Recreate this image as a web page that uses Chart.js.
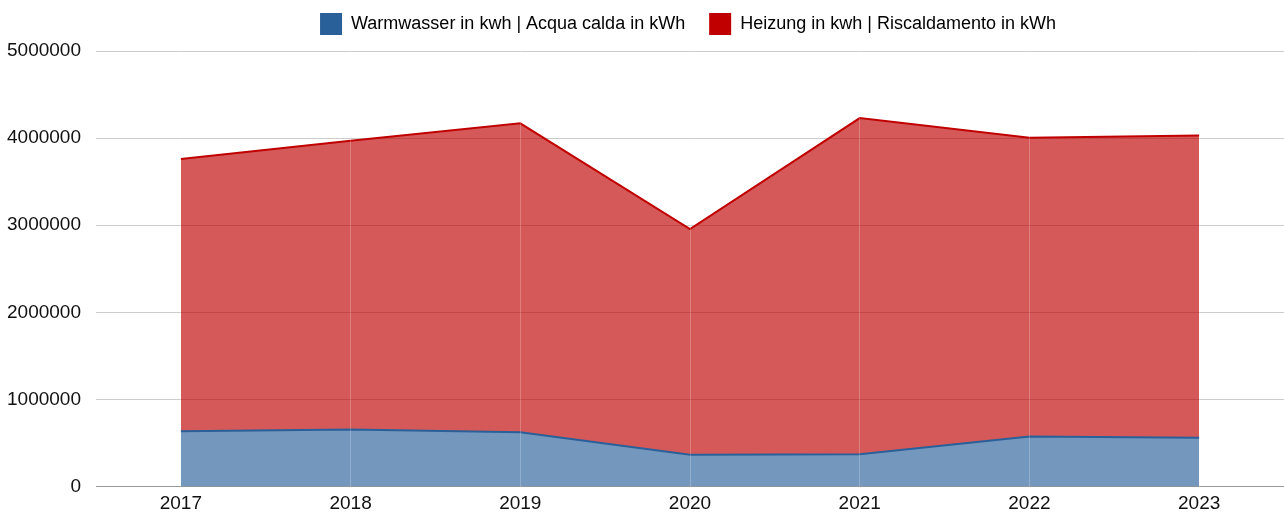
<!DOCTYPE html>
<html>
<head>
<meta charset="utf-8">
<script src="https://cdn.jsdelivr.net/npm/chart.js@4.4.0/dist/chart.umd.min.js"></script>
<style>
  html, body { margin: 0; padding: 0; background: #fff; }
  #wrap { width: 1284px; height: 513px; }
</style>
</head>
<body>
<div id="wrap"><canvas id="myChart"></canvas></div>
<script>
  // data
  var years = ['2017', '2018', '2019', '2020', '2021', '2022', '2023']
  var warmwasser = [635000, 655000, 625000, 365000, 370000, 575000, 560000]
  var heizung = [3125000, 3315000, 3545000, 2590000, 3860000, 3430000, 3470000]
  var yTicks = [0, 1000000, 2000000, 3000000, 4000000, 5000000]

  Chart.defaults.font.family = '"Liberation Sans", Arial, Helvetica, sans-serif'
  Chart.defaults.font.size = 19
  Chart.defaults.color = '#111'

  // legend: extra space below it, wider gap between items,
  // centred over the plot area instead of the canvas
  var legendTweak = {
    id: 'legendTweak',
    beforeInit: function (chart) {
      var fit = chart.legend.fit
      chart.legend.fit = function () {
        fit.call(this)
        this.height += 6
      }
    },
    beforeDraw: function (chart) {
      var lg = chart.legend
      var ca = chart.chartArea
      lg.options.labels.padding = 24
      lg.top = -11
      lg.left = ca.left - 13
      lg.right = ca.right - 13
    },
    afterDraw: function (chart) {
      chart.legend.options.labels.padding = 13
    }
  }

  var ctx = document.getElementById('myChart')
  // eslint-disable-next-line no-unused-vars
  var myChart = new Chart(ctx, {
    type: 'line',
    data: {
      labels: years,
      datasets: [{
        label: 'Warmwasser in kwh | Acqua calda in kWh',
        data: warmwasser,
        borderColor: '#2a6099',
        backgroundColor: 'rgba(42, 96, 153, 0.65)',
        fill: 'origin',
        borderWidth: 2,
        pointRadius: 0,
        tension: 0
      }, {
        label: 'Heizung in kwh | Riscaldamento in kWh',
        data: heizung,
        borderColor: '#c00000',
        backgroundColor: 'rgba(192, 0, 0, 0.65)',
        fill: '-1',
        borderWidth: 2,
        pointRadius: 0,
        tension: 0
      }]
    },
    plugins: [legendTweak],
    options: {
      responsive: true,
      maintainAspectRatio: false,
      animation: false,
      layout: { padding: { top: 0, right: 0, left: 7, bottom: 0 } },
      plugins: {
        legend: {
          position: 'top',
          labels: {
            boxWidth: 22,
            boxHeight: 22,
            padding: 13,
            color: '#111',
            font: { size: 18 },
            generateLabels: function (chart) {
              return chart.data.datasets.map(function (ds, i) {
                return {
                  text: ds.label,
                  fillStyle: ds.borderColor,
                  strokeStyle: ds.borderColor,
                  lineWidth: 0,
                  datasetIndex: i
                }
              })
            }
          }
        },
        tooltip: { enabled: false }
      },
      scales: {
        x: {
          offset: true,
          afterFit: function (axis) { axis.height = 26 },
          grid: {
            offset: false,
            color: 'rgba(255, 255, 255, 0.22)',
            drawTicks: false,
            z: 1
          },
          border: { display: false },
          ticks: { padding: 6, color: '#111' }
        },
        y: {
          stacked: true,
          min: 0,
          max: 5000000,
          afterFit: function (axis) { axis.width = 89 },
          afterBuildTicks: function (axis) {
            axis.ticks = yTicks.map(function (v) { return { value: v } })
          },
          grid: {
            color: function (c) { return c.tick && c.tick.value === 0 ? '#999' : '#ccc' },
            drawTicks: false
          },
          border: { display: false },
          ticks: {
            padding: 15,
            color: '#111',
            callback: function (v) { return String(v) }
          }
        }
      }
    }
  })
</script>
</body>
</html>
